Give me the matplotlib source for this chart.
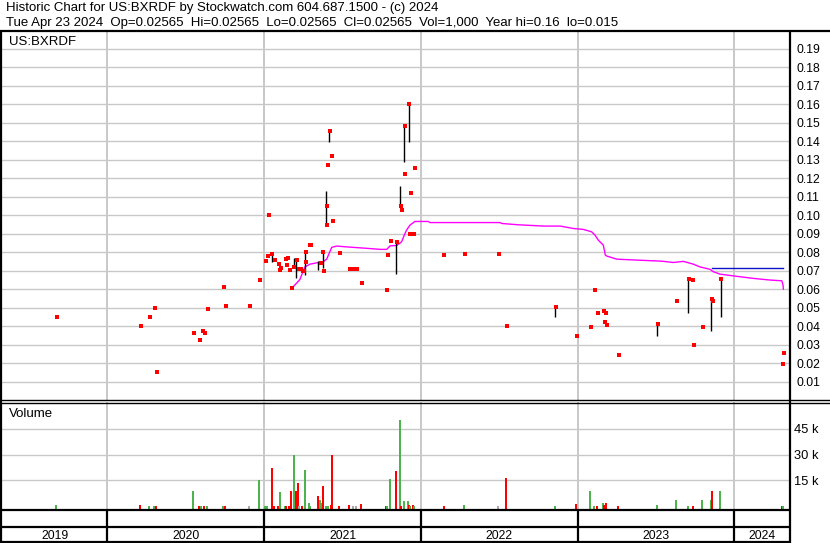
import matplotlib
matplotlib.use('Agg')
import matplotlib.pyplot as plt
import numpy as np

plt.rcParams['font.family'] = ['Liberation Sans', 'DejaVu Sans']

# ---------------- data (x in decimal years) ----------------
title_line1 = "Historic Chart for US:BXRDF by Stockwatch.com 604.687.1500 - (c) 2024"
title_line2 = "Tue Apr 23 2024  Op=0.02565  Hi=0.02565  Lo=0.02565  Cl=0.02565  Vol=1,000  Year hi=0.16  lo=0.015"
symbol = "US:BXRDF"
year_labels = ["2019", "2020", "2021", "2022", "2023", "2024"]
year_edges = [2020, 2021, 2022, 2023, 2024]
price_ticks = [0.01, 0.02, 0.03, 0.04, 0.05, 0.06, 0.07, 0.08, 0.09, 0.10,
               0.11, 0.12, 0.13, 0.14, 0.15, 0.16, 0.17, 0.18, 0.19]
vol_ticks = [15, 30, 45]  # thousands

dot_t = [2019.676, 2020.212, 2020.269, 2020.303, 2020.314, 2020.550, 2020.588,
         2020.608, 2020.620, 2020.639, 2020.743, 2020.756, 2020.909, 2020.975,
         2021.010, 2021.022, 2021.031, 2021.052, 2021.069, 2021.094, 2021.107,
         2021.101, 2021.139, 2021.152, 2021.145, 2021.165, 2021.177, 2021.188,
         2021.207, 2021.224, 2021.237, 2021.250, 2021.256, 2021.267, 2021.267,
         2021.290, 2021.299, 2021.361, 2021.373, 2021.380, 2021.401, 2021.401,
         2021.405, 2021.420, 2021.433, 2021.439, 2021.482, 2021.546, 2021.571,
         2021.590, 2021.624, 2021.782, 2021.788, 2021.807, 2021.847, 2021.873,
         2021.879, 2021.899, 2021.897, 2021.926, 2021.937, 2021.960, 2021.930,
         2021.956, 2022.147, 2022.280, 2022.496, 2022.548, 2022.862, 2022.994,
         2023.084, 2023.109, 2023.130, 2023.168, 2023.181, 2023.173, 2023.188,
         2023.264, 2023.513, 2023.632, 2023.711, 2023.734, 2023.743, 2023.800,
         2023.858, 2023.863, 2023.917, 2024.317, 2024.311]
dot_p = [0.045, 0.040, 0.045, 0.050, 0.015, 0.036, 0.0325,
         0.0375, 0.036, 0.049, 0.061, 0.051, 0.051, 0.065,
         0.075, 0.078, 0.100, 0.079, 0.076, 0.0737, 0.0714,
         0.0703, 0.0764, 0.077, 0.0731, 0.0703, 0.0605, 0.0719,
         0.076, 0.0708, 0.0708, 0.0699, 0.0699, 0.080, 0.0746,
         0.084, 0.084, 0.0741, 0.0799, 0.0699, 0.105, 0.0946,
         0.1273, 0.1454, 0.1322, 0.097, 0.0797, 0.071, 0.071,
         0.071, 0.0634, 0.0596, 0.0786, 0.0861, 0.0853, 0.105,
         0.103, 0.148, 0.1224, 0.160, 0.1121, 0.1257, 0.0898,
         0.0898, 0.0786, 0.079, 0.079, 0.0401, 0.0504, 0.0345,
         0.0394, 0.0594, 0.047, 0.0482, 0.047, 0.0421, 0.0405,
         0.0243, 0.0409, 0.0537, 0.0652, 0.0649, 0.0297, 0.0394,
         0.0546, 0.0535, 0.0652, 0.02565, 0.0194]

bar_t = [2021.052, 2021.192, 2021.205, 2021.262, 2021.345, 2021.373, 2021.396,
         2021.415, 2021.843, 2021.869, 2021.894, 2021.922, 2022.858, 2023.509,
         2023.706, 2023.853, 2023.913]
bar_lo = [0.0748, 0.0712, 0.0661, 0.0674, 0.0701, 0.0715, 0.0945,
          0.1397, 0.068, 0.105, 0.129, 0.1397, 0.045, 0.0347,
          0.0472, 0.0374, 0.045]
bar_hi = [0.0789, 0.0766, 0.0761, 0.0804, 0.0751, 0.0799, 0.113,
          0.1454, 0.0853, 0.1158, 0.1483, 0.160, 0.0504, 0.0409,
          0.0652, 0.0551, 0.0652]

ma_t = [2021.177, 2021.228, 2021.260, 2021.292, 2021.335, 2021.377, 2021.399,
        2021.431, 2021.463, 2021.516, 2021.664, 2021.739, 2021.782, 2021.803,
        2021.846, 2021.877, 2021.894, 2021.909, 2021.930, 2021.962, 2022.047,
        2022.058, 2022.505, 2022.516, 2022.622, 2022.781, 2022.888, 2022.973,
        2023.036, 2023.090, 2023.111, 2023.132, 2023.164, 2023.177, 2023.186,
        2023.250, 2023.377, 2023.537, 2023.611, 2023.675, 2023.738, 2023.781,
        2023.845, 2023.866, 2023.909, 2023.952, 2024.036, 2024.121, 2024.228,
        2024.303, 2024.311, 2024.313]
ma_v = [0.0605, 0.0652, 0.072, 0.0735, 0.0742, 0.0748, 0.0762,
        0.0826, 0.0833, 0.0829, 0.082, 0.0815, 0.0815, 0.0834,
        0.0836, 0.0856, 0.0892, 0.092, 0.0946, 0.0966, 0.0966,
        0.096, 0.096, 0.0955, 0.0948, 0.0941, 0.0941, 0.0928,
        0.0923, 0.091, 0.0892, 0.0865, 0.0838, 0.0784, 0.0779,
        0.0762, 0.0757, 0.0751, 0.0744, 0.075, 0.0735, 0.072,
        0.0707, 0.0694, 0.0681, 0.0676, 0.0667, 0.0658, 0.0649,
        0.0645, 0.0621, 0.060]

ref_t = [2023.856, 2024.313]
ref_v = [0.0716, 0.0716]

vol_t = [2019.669, 2020.205, 2020.265, 2020.295, 2020.308, 2020.544, 2020.582,
         2020.599, 2020.614, 2020.633, 2020.737, 2020.750, 2020.901, 2020.967,
         2021.005, 2021.018, 2021.050, 2021.061, 2021.088, 2021.101, 2021.131,
         2021.139, 2021.158, 2021.171, 2021.188, 2021.201, 2021.214, 2021.224,
         2021.239, 2021.260, 2021.284, 2021.294, 2021.341, 2021.354, 2021.361,
         2021.373, 2021.392, 2021.405, 2021.424, 2021.431, 2021.475, 2021.541,
         2021.567, 2021.586, 2021.618, 2021.775, 2021.784, 2021.803, 2021.841,
         2021.867, 2021.873, 2021.892, 2021.918, 2021.924, 2021.930, 2021.950,
         2021.956, 2022.146, 2022.275, 2022.492, 2022.543, 2022.856, 2022.990,
         2023.079, 2023.105, 2023.124, 2023.162, 2023.169, 2023.179, 2023.258,
         2023.507, 2023.628, 2023.705, 2023.735, 2023.794, 2023.851, 2023.858,
         2023.909, 2024.304, 2024.311]
vol_k = [0.75, 0.75, 0.3, 0.3, 0.2, 8.8, 0.2,
         0.2, 0.2, 0.2, 0.2, 0.3, 0.2, 15.2,
         0.2, 0.2, 22.3, 0.3, 0.2, 8.2, 0.2,
         0.2, 0.2, 9.0, 29.8, 9.0, 13.4, 0.2,
         0.2, 21.0, 1.9, 0.2, 5.9, 3.6, 1.7,
         11.7, 0.2, 0.2, 0.75, 29.6, 0.3, 0.75,
         0.2, 0.2, 1.3, 0.2, 0.2, 15.7, 20.4,
         50.4, 0.3, 3.1, 3.1, 0.75, 0.2, 0.4,
         0.3, 0.3, 0.75, 0.2, 16.3, 0.3, 1.3,
         8.8, 0.2, 0.2, 1.9, 0.75, 1.9, 0.2,
         0.75, 3.6, 0.2, 0.2, 3.6, 3.6, 8.8,
         8.8, 0.3, 0.3]
vol_dir = ['g', 'r', 'g', 'g', 'r', 'g', 'r',
           'g', 'r', 'g', 'g', 'r', 'n', 'g',
           'g', 'g', 'r', 'r', 'r', 'g', 'g',
           'r', 'r', 'r', 'g', 'r', 'r', 'n',
           'r', 'g', 'g', 'g', 'r', 'g', 'g',
           'r', 'g', 'g', 'r', 'r', 'r', 'r',
           'n', 'n', 'r', 'r', 'g', 'g', 'r',
           'g', 'r', 'g', 'g', 'r', 'g', 'r',
           'g', 'r', 'g', 'n', 'r', 'g', 'r',
           'g', 'g', 'r', 'g', 'r', 'r', 'r',
           'g', 'g', 'g', 'r', 'g', 'g', 'r',
           'g', 'r', 'g']

# ---------------- layout ----------------
W, H = 830, 543
fig = plt.figure(figsize=(W / 100, H / 100), dpi=100)
FS = 8.7      # tick / year labels
FS_T = 9.5    # header and panel labels
GRID = '#C8C8C8'
XMIN, XMAX = 2019.327, 2024.349


def ax_px(x0, y0, x1, y1, **kw):
    return fig.add_axes([x0 / W, 1 - y1 / H, (x1 - x0) / W, (y1 - y0) / H], **kw)


# main price panel
ax = ax_px(2, 32, 789, 400)
ax.set_xlim(XMIN, XMAX)
ax.set_ylim(0, 0.1991)
for s in ax.spines.values():
    s.set_visible(False)
ax.set_xticks([])
ax.yaxis.tick_right()
ax.set_yticks(price_ticks)
ax.set_yticklabels(['%.2f' % v for v in price_ticks], fontsize=FS)
ax.tick_params(axis='y', length=0, pad=5.5)
for v in price_ticks:
    ax.axhline(v, color=GRID, lw=1.0, zorder=0)
for e in year_edges:
    ax.axvline(e, color=GRID, lw=1.4, zorder=0)
ax.plot(ma_t, ma_v, color='#FF00FF', lw=1.0, zorder=2)
ax.plot(ref_t, ref_v, color='#1010C8', lw=1.0, zorder=2)
ax.vlines(bar_t, bar_lo, bar_hi, color='black', lw=1.0, zorder=3)
ax.scatter(dot_t, dot_p, marker='s', s=4.8, color='#FF0000', linewidths=0, zorder=4)
ax.text(0.0085, 0.972, symbol, transform=ax.transAxes, fontsize=FS_T, va='center', ha='left')

# volume panel
VBOT, VTOP = -1.7, 60.75
axv = ax_px(2, 402, 789, 509)
axv.set_xlim(XMIN, XMAX)
axv.set_ylim(VBOT, VTOP)
for s in axv.spines.values():
    s.set_visible(False)
axv.set_xticks([])
axv.yaxis.tick_right()
axv.set_yticks(vol_ticks)
axv.set_yticklabels(['%d k' % v for v in vol_ticks], fontsize=9.3)
axv.tick_params(axis='y', length=0, pad=3.5)
for v in vol_ticks:
    axv.axhline(v, color=GRID, lw=1.0, zorder=0)
for e in year_edges:
    axv.axvline(e, color=GRID, lw=1.4, zorder=0)
cmap = {'g': '#4DB34D', 'r': '#FF0000', 'n': '#A8A8A8'}
axv.bar(vol_t, np.array(vol_k) - VBOT, bottom=VBOT, width=0.0125,
        color=[cmap[c] for c in vol_dir], linewidth=0, zorder=2)
axv.text(0.009, 0.89, "Volume", transform=axv.transAxes, fontsize=FS_T, va='center', ha='left')

# year strip
axy = ax_px(2, 509, 789, 542)
axy.set_xlim(XMIN, XMAX)
axy.set_ylim(0, 1)
axy.axis('off')
for e in year_edges:
    axy.axvline(e, color='black', lw=1.6)
bounds = [XMIN] + year_edges + [XMAX]
for i, lab in enumerate(year_labels):
    axy.text((bounds[i] + bounds[i + 1]) / 2, 0.085, lab, fontsize=FS,
             ha='center', va='baseline')

# overlay for frame lines
ov = fig.add_axes([0, 0, 1, 1], zorder=10)
ov.set_xlim(0, W)
ov.set_ylim(H, 0)
ov.axis('off')
ov.patch.set_alpha(0)
k = dict(color='black', solid_capstyle='butt')
ov.plot([0, W], [31, 31], lw=1.6, **k)
ov.plot([0, W], [400, 400], lw=1.0, **k)
ov.plot([0, W], [402.5, 402.5], lw=1.0, **k)
ov.plot([1, 1], [31, H], lw=1.6, **k)
ov.plot([789.5, 789.5], [31, H], lw=1.6, **k)
ov.plot([0, 789.5], [509.5, 509.5], lw=1.6, **k)
ov.plot([0, 789.5], [527, 527], lw=1.6, **k)
ov.plot([0, 789.5], [542, 542], lw=1.6, **k)

fig.text(6 / W, 1 - 8.5 / H, title_line1, fontsize=FS_T, va='center', ha='left')
fig.text(6 / W, 1 - 23 / H, title_line2, fontsize=FS_T, va='center', ha='left')

fig.savefig('out.png', dpi=100)
